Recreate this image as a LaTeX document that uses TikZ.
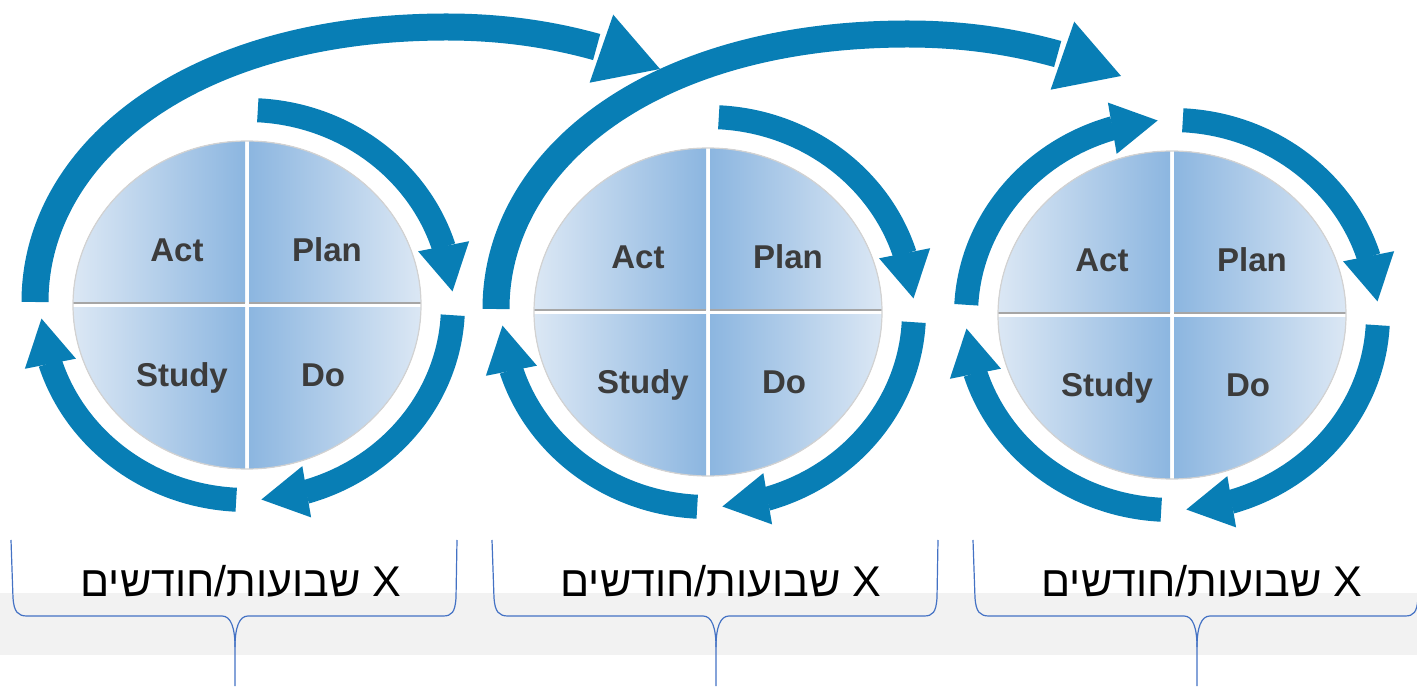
\documentclass[tikz,border=0pt]{standalone}
\usepackage{fontspec}
\setmainfont{Liberation Sans}
\newfontfamily\hebfont[Script=Hebrew]{Liberation Sans}
\TeXXeTstate=1
\usetikzlibrary{arrows.meta,bending,calc,positioning}

\definecolor{cycleblue}{RGB}{8,126,181}
\definecolor{quadlight}{RGB}{222,233,245}
\definecolor{quaddark}{RGB}{140,182,224}
\definecolor{labelgray}{RGB}{60,60,60}
\definecolor{braceblue}{RGB}{68,114,196}
\definecolor{bandgray}{RGB}{242,242,242}

\tikzset{
    ring_arrow/.style={
        draw=cycleblue,
        line width=24pt,
        -{Triangle[length=46pt,width=52pt,line width=0pt]}
    },
    jump_arrow/.style={
        draw=cycleblue,
        line width=27pt,
        -{Triangle[length=62pt,width=72pt,line width=0pt]}
    },
    quad_label/.style={
        anchor=base,
        text=labelgray,
        font=\fontsize{33}{38}\selectfont\bfseries
    },
    time_label/.style={
        anchor=base,
        text=black,
        font=\hebfont\fontsize{43}{48}\selectfont
    },
    time_brace/.style={
        draw=braceblue,
        line width=1.2pt
    },
}

\begin{document}
\begin{tikzpicture}[x=1pt, y=1pt]
        \useasboundingbox (0,0) rectangle (1417,686);

        % band
        \fill[bandgray] (0,31) rectangle (1417,93);

        % cycles
        \foreach \i/\cx/\cy in {1/247/381, 2/708/374, 3/1172/371} {
            \coordinate (c\i) at (\cx,\cy);
            \begin{scope}
                \clip (c\i) ellipse [x radius=174, y radius=164];
                \fill[left color=quadlight, right color=quaddark] ($(c\i)+(-180,2)$) rectangle ($(c\i)+(-2,170)$);
                \fill[left color=quaddark, right color=quadlight] ($(c\i)+(2,2)$) rectangle ($(c\i)+(180,170)$);
                \fill[left color=quadlight, right color=quaddark] ($(c\i)+(-180,-3)$) rectangle ($(c\i)+(-2,-170)$);
                \fill[left color=quaddark, right color=quadlight] ($(c\i)+(2,-3)$) rectangle ($(c\i)+(180,-170)$);
                \draw[gray!70, line width=2pt] ($(c\i)+(-180,2)$) -- ($(c\i)+(-2,2)$);
                \draw[gray!70, line width=2pt] ($(c\i)+(2,2)$) -- ($(c\i)+(180,2)$);
            \end{scope}
            \draw[gray!35, line width=1.2pt] (c\i) ellipse [x radius=174, y radius=164];

            \node[quad_label] (act\i)   at ($(c\i)+(-70,43)$)  {Act};
            \node[quad_label] (plan\i)  at ($(c\i)+(80,43)$)   {Plan};
            \node[quad_label] (study\i) at ($(c\i)+(-65,-82)$) {Study};
            \node[quad_label] (do\i)    at ($(c\i)+(76,-82)$)  {Do};

            \foreach \a in {87,-3,-93}
                \draw[ring_arrow] ($(c\i)+(\a:206 and 195)$) arc[start angle=\a, delta angle=-83, x radius=206, y radius=195];
        }
        \draw[ring_arrow] ($(c3)+(177:206 and 195)$) arc[start angle=177, delta angle=-83, x radius=206, y radius=195];

        % jumps to the next cycle
        \foreach \i in {1,2}
            \draw[jump_arrow] ($(c\i)+(-212,3)$) .. controls ($(c\i)+(-212,150)$) and ($(c\i)+(-60,278)$) .. ($(c\i)+(200,278)$)
                .. controls ($(c\i)+(290,278)$) and ($(c\i)+(360,258)$) .. ($(c\i)+(413,236)$);

        % braces and durations
        \foreach \i/\tx/\lx in {1/235/241, 2/716/721, 3/1197/1202} {
            \coordinate (tip\i) at (\tx,0);
            \draw[time_brace] ($(tip\i)+(-224,146)$) -- ($(tip\i)+(-222,88)$) .. controls ($(tip\i)+(-221,74)$) and ($(tip\i)+(-217,70)$) .. ($(tip\i)+(-208,70)$)
                -- ($(tip\i)+(-13,70)$) .. controls ($(tip\i)+(-4,70)$) and ($(tip\i)+(0,58)$) .. ($(tip\i)+(0,39)$) -- (tip\i);
            \draw[time_brace] ($(tip\i)+(0,39)$) .. controls ($(tip\i)+(0,58)$) and ($(tip\i)+(4,70)$) .. ($(tip\i)+(13,70)$)
                -- ($(tip\i)+(208,70)$) .. controls ($(tip\i)+(217,70)$) and ($(tip\i)+(220,74)$) .. ($(tip\i)+(221,88)$) -- ($(tip\i)+(222,146)$);
            \node[time_label] (time\i) at (\lx,89) {\beginR X שבועות/חודשים\endR};
        }
\end{tikzpicture}
\end{document}
